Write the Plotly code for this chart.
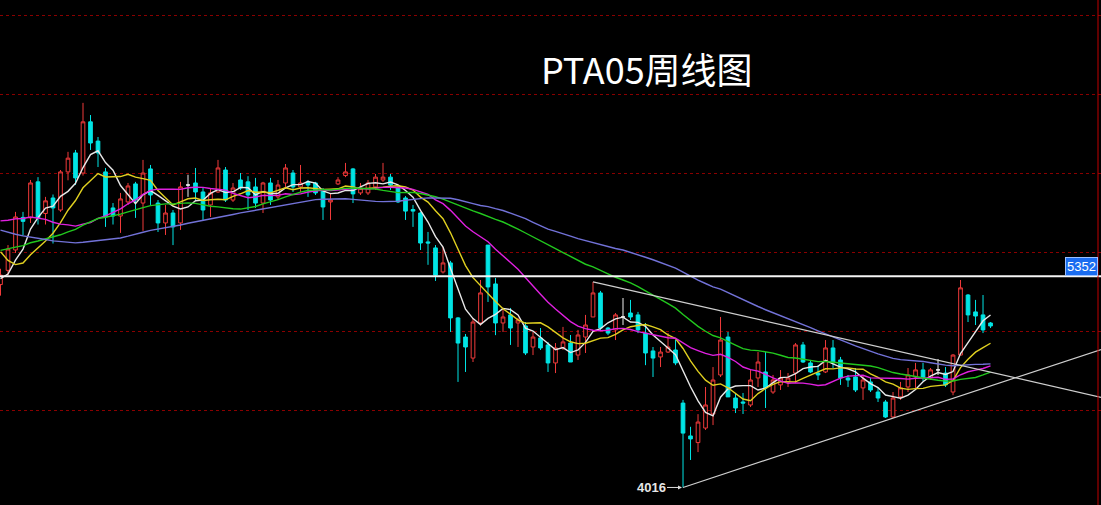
import pandas as pd
import plotly.graph_objects as go

# ---------------- data (weekly PTA05) ----------------
opens = [5300,5390,5519,5725,5722,5950,5750,5848,5772,6013,
         6133,6006,6330,6208,6013,5785,5734,5823,5937,5816,
         6032,5816,5690,5753,5690,5930,5943,5886,5804,5886,
         6025,5835,5962,5950,5918,5816,5943,5855,5943,6006,
         5918,5950,5943,5899,5823,5937,5990,6032,5880,5880,
         5918,5962,5980,5911,5848,5775,5753,5570,5532,5380,
         5437,5089,4968,4835,5057,5550,5304,5057,5108,5057,
         5038,4905,4962,4918,4804,4899,4930,4854,4968,5095,
         5247,5025,5013,5095,5120,5108,4993,4880,4842,4873,
         4886,4550,4342,4300,4392,4481,4728,4968,4582,4557,
         4538,4709,4747,4620,4665,4684,4740,4918,4804,4740,
         4747,4899,4823,4709,4715,4646,4684,4620,4557,4462,
         4589,4652,4715,4760,4709,4760,4740,4620,4854,5234,
         5127,5108,5057]
highs = [5400,5550,5760,5760,5962,5980,5855,5870,6025,6140,
         6152,6450,6373,6234,6038,5816,5880,5943,5950,6089,
         6057,5835,5804,5772,5950,5995,6038,5911,5911,6089,
         6044,5943,6006,5986,5975,5950,5975,5962,6063,6025,
         6057,5962,5950,5911,5880,5980,6070,6038,5943,5962,
         6000,6070,6000,5930,5860,5804,5760,5633,5550,5538,
         5450,5095,4987,5089,5329,5550,5342,5152,5152,5089,
         5063,5000,5025,4937,4930,5032,4981,5013,5108,5317,
         5260,5032,5120,5215,5203,5127,5057,4905,4905,4993,
         4949,4570,4400,4480,4652,4778,5095,5000,4614,4614,
         4759,4873,4873,4728,4759,4740,4930,4937,4823,4790,
         4949,4949,4842,4728,4772,4728,4709,4646,4570,4620,
         4684,4772,4804,4804,4772,4829,4778,4860,5329,5240,
         5203,5234,5063]
lows = [5230,5360,5500,5610,5690,5680,5680,5560,5760,5960,
        5930,5990,6152,6044,5665,5680,5627,5804,5722,5640,
        5804,5633,5614,5550,5646,5855,5835,5709,5728,5880,
        5823,5823,5899,5772,5785,5753,5804,5835,5911,5886,
        5886,5855,5867,5709,5709,5930,5980,5816,5867,5867,
        5899,5950,5899,5816,5709,5665,5519,5425,5323,5370,
        5000,4684,4747,4810,5040,5190,4980,5000,4918,4905,
        4854,4854,4886,4747,4740,4886,4810,4823,4867,5095,
        5013,4980,4949,5044,5076,4993,4790,4715,4778,4867,
        4790,4016,4190,4240,4380,4411,4715,4589,4487,4481,
        4525,4652,4519,4608,4633,4652,4677,4804,4740,4696,
        4740,4772,4665,4652,4620,4570,4620,4557,4456,4456,
        4570,4620,4646,4690,4696,4728,4652,4600,4854,5063,
        5044,4993,5025]
closes = [5360,5525,5728,5700,5943,5722,5830,5785,6013,6100,
          5975,6330,6196,6133,5728,5734,5842,5924,5835,6006,
          5867,5690,5753,5665,5918,5930,5886,5772,5880,6038,
          5835,5911,5911,5867,5816,5943,5835,5930,6038,5918,
          5943,5930,5880,5791,5835,5962,6013,5874,5911,5943,
          5980,5980,5930,5823,5765,5765,5563,5563,5360,5437,
          5089,4930,4905,5063,5247,5285,5057,5095,5025,5076,
          4867,4968,4899,4804,4899,4937,4810,4981,5044,5247,
          5025,4993,5108,5095,5095,5013,4867,4835,4873,4905,
          4804,4360,4323,4430,4538,4696,4949,4589,4519,4550,
          4696,4810,4646,4696,4709,4709,4918,4810,4747,4728,
          4899,4804,4709,4696,4633,4696,4633,4582,4462,4582,
          4646,4728,4760,4709,4760,4760,4665,4854,5279,5108,
          5101,5013,5038]
# closes of the weeks before the visible window (estimated from the MA start levels)
prior_closes = [6420,6380,6300,6350,6280,6250,6330,6290,6260,6280,
                6100,5900,5750,5600,5450,5300,5250,5200,5150,5160,
                5200,5250,5300,5220,5280,5350,5300,5400,5380,5320,
                5260,5300,5350,5400,5420,5380,5350,5400,5380,5360,
                5450,5550,5650,5750,5850,6000,6150,6250,6200,6130,
                6080,5990,5600,5420,5300,5380,5290,5350,5310]

ma_periods = [5, 10, 20, 40, 60]
ma_colors = ["#e8e8e8", "#e0d020", "#e020e0", "#22c81e", "#7272d8"]

ref_price = 5352
ref_label = "5352"
low_price = 4016
low_index = 91
low_label = "4016"
trend_down_x = [79, 146.8]
trend_down_y = [5317, 4586]
trend_up_x = [91, 146.8]
trend_up_y = [4016, 4890]
grid_levels = [4500, 5000, 5500, 6000, 6500, 7000]
title_text = "PTA05周线图"

# ---------------- figure ----------------
UP = "#f03a3a"
DOWN = "#00e4e4"
n = len(closes)
idx = list(range(n))

fig = go.Figure()

def subset(cond):
    ii = [i for i in idx if cond(i)]
    return (ii, [opens[i] for i in ii], [highs[i] for i in ii],
            [lows[i] for i in ii], [closes[i] for i in ii])

x1, o1, h1, l1, c1 = subset(lambda i: opens[i] != closes[i])
fig.add_trace(go.Candlestick(
    x=x1, open=o1, high=h1, low=l1, close=c1,
    increasing=dict(line=dict(color=UP, width=1), fillcolor="#000000"),
    decreasing=dict(line=dict(color=DOWN, width=1), fillcolor=DOWN),
    whiskerwidth=0, showlegend=False, hoverinfo="skip"))

x2, o2, h2, l2, c2 = subset(lambda i: opens[i] == closes[i])
fig.add_trace(go.Candlestick(
    x=x2, open=o2, high=h2, low=l2, close=c2,
    increasing=dict(line=dict(color="#f0f0f0", width=1), fillcolor="#f0f0f0"),
    decreasing=dict(line=dict(color="#f0f0f0", width=1), fillcolor="#f0f0f0"),
    whiskerwidth=0, showlegend=False, hoverinfo="skip"))

series = pd.Series(prior_closes + closes)
for p, col in zip(ma_periods, ma_colors):
    ma = series.rolling(p, min_periods=1).mean().iloc[len(prior_closes):].tolist()
    fig.add_trace(go.Scatter(x=idx, y=ma, mode="lines",
                             line=dict(color=col, width=1.4),
                             showlegend=False, hoverinfo="skip"))

# trend lines
for tx, ty in [(trend_down_x, trend_down_y), (trend_up_x, trend_up_y)]:
    fig.add_trace(go.Scatter(x=tx, y=ty, mode="lines",
                             line=dict(color="#cfcfcf", width=1.2),
                             showlegend=False, hoverinfo="skip"))

# reference horizontal line and right border
fig.add_hline(y=ref_price, line=dict(color="#f4f4f4", width=2))
fig.add_vline(x=146.33, line=dict(color="#c00000", width=1))

fig.add_annotation(xref="paper", x=0.9975, y=ref_price, yref="y",
                   xanchor="right", yanchor="bottom", text=ref_label,
                   showarrow=False, bgcolor="#1a6cf0", bordercolor="#9cc0ff",
                   borderwidth=1, borderpad=1,
                   font=dict(family="Liberation Sans, Arial", size=13, color="#ffffff"))

fig.add_annotation(x=low_index, y=low_price, text="<b>" + low_label + "</b>",
                   showarrow=True, arrowhead=2, arrowsize=0.8, arrowwidth=1,
                   arrowcolor="#dddddd", ax=-32, ay=0, standoff=1,
                   font=dict(family="Liberation Sans, Arial", size=13, color="#e6e6e6"))

fig.add_annotation(xref="paper", yref="paper", x=0.588, y=0.865,
                   xanchor="center", yanchor="middle",
                   text=title_text, showarrow=False,
                   font=dict(family="Noto Sans CJK SC", size=36, color="#ffffff"))

fig.update_layout(
    width=1101, height=505,
    margin=dict(l=0, r=0, t=0, b=0),
    paper_bgcolor="#000000", plot_bgcolor="#000000",
    xaxis=dict(range=[-0.0667, 146.73], showgrid=False, zeroline=False,
               showticklabels=False, rangeslider=dict(visible=False)),
    yaxis=dict(range=[3905, 7101], tickvals=grid_levels, showgrid=True,
               gridcolor="#8a0000", griddash="dot", gridwidth=1,
               zeroline=False, showticklabels=False),
    showlegend=False,
)

fig.write_html("out.html", config={"displayModeBar": False},
               post_script="document.body.style.margin='0';document.body.style.background='#000';")
